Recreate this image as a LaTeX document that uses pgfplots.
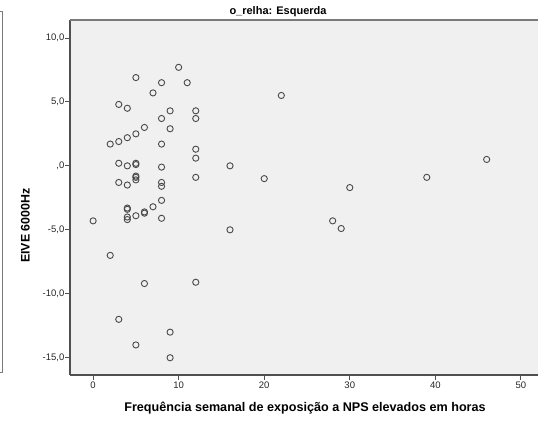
\documentclass[border=0pt]{standalone}
\usepackage{pgfplots}
\pgfplotsset{compat=1.18}
\usepackage{fontspec}
\setmainfont{Liberation Sans}
\definecolor{panelbg}{HTML}{F0F0F0}
\definecolor{axisdark}{HTML}{505050}
\definecolor{framegray}{HTML}{7A7A7A}
\definecolor{markgray}{HTML}{4A4A4A}

% weekly hours of exposure vs. EIVE at 6000 Hz (left ear)
\pgfplotstableread{
horas eive
0 -4.3
2 1.7
2 -7.0
3 4.8
3 1.9
3 0.2
3 -1.3
3 -12.0
4 4.5
4 2.2
4 0.0
4 -1.5
4 -3.3
4 -3.4
4 -4.0
4 -4.2
5 6.9
5 2.5
5 0.2
5 0.1
5 -0.8
5 -0.9
5 -1.1
5 -3.9
5 -14.0
6 3.0
6 -3.6
6 -3.7
6 -9.2
7 5.7
7 -3.2
8 6.5
8 3.7
8 1.7
8 -0.1
8 -1.3
8 -1.6
8 -2.7
8 -4.1
9 4.3
9 2.9
9 -13.0
9 -15.0
10 7.7
11 6.5
12 4.3
12 3.7
12 1.3
12 0.6
12 -0.9
12 -9.1
16 0.0
16 -5.0
20 -1.0
22 5.5
28 -4.3
29 -4.9
30 -1.7
39 -0.9
46 0.5
}\esquerda

\begin{document}
\begin{tikzpicture}[x=1pt,y=1pt]
\useasboundingbox (0,0) rectangle (538,423);
% edge of the neighbouring panel
\draw[framegray, line width=1pt] (0,411) -- (2.5,411) -- (2.5,50) -- (0,50);
\begin{axis}[
  at={(70pt,48pt)}, anchor=south west,
  scale only axis, width=468pt, height=355pt,
  xmin=-2.7, xmax=52, ymin=-16.35, ymax=11.4,
  axis x line*=bottom, axis y line*=left,
  axis line style={axisdark, line width=1.3pt},
  axis background/.style={fill=panelbg},
  tick align=outside, major tick length=5pt,
  tick style={axisdark, line width=0.8pt},
  xtick={0,10,20,30,40,50}, xticklabels={0,10,20,30,40,50},
  ytick={-15,-10,-5,0,5,10},
  yticklabels={{-15,0},{-10,0},{-5,0},{,0},{5,0},{10,0}},
  ticklabel style={font=\fontsize{9.5}{11}\selectfont, text=black!85},
  yticklabel style={inner sep=0.5pt},
  xticklabel style={inner sep=1.5pt},
  clip=false,
]
\draw[framegray, line width=1.3pt] (rel axis cs:0,1) -- (rel axis cs:1,1);
\addplot[only marks, mark=o, mark size=3.1pt,
  mark options={draw=markgray, line width=0.9pt}]
  table[x=horas, y=eive] {\esquerda};
\end{axis}
\node[anchor=base, font=\bfseries\fontsize{11}{13}\selectfont] at (278,408.3) {o\_relha: Esquerda};
\node[anchor=base, rotate=90, font=\bfseries\fontsize{12.4}{14}\selectfont] at (29.5,197.5) {EIVE 6000Hz};
\node[anchor=base, font=\bfseries\fontsize{12.6}{14}\selectfont] at (305,11.3) {Frequência semanal de exposição a NPS elevados em horas};
\end{tikzpicture}
\end{document}
